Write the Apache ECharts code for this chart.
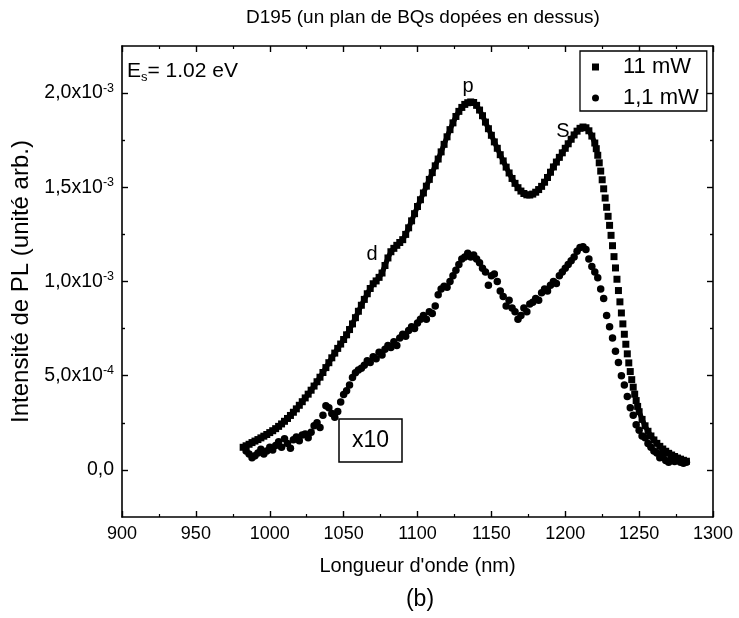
<!DOCTYPE html>
<html>
<head>
<meta charset="utf-8">
<script src="https://cdn.jsdelivr.net/npm/echarts@6/dist/echarts.min.js"></script>
<style>
html,body{margin:0;padding:0;background:#fff;}
#chart{width:739px;height:618px;}
</style>
</head>
<body>
<div id="chart"></div>
<script>
// ---- Data (values in units of 1e-3) ----
var wl11 = [982,984,986,988,990,992,994,996,998,1000,1002,1004,1006,1008,1010,1012,1014,1016,1018,1020,
1022,1024,1026,1028,1030,1032,1034,1036,1038,1040,1042,1044,1046,1048,1050,1052,1054,1056,1058,1060,
1062,1064,1066,1068,1070,1072,1074,1076,1078,1080,1082,1084,1086,1088,1090,1092,1094,1096,1098,1100,
1102,1104,1106,1108,1110,1112,1114,1116,1118,1120,1122,1124,1126,1128,1130,1132,1134,1136,1138,1140,
1142,1144,1146,1148,1150,1152,1154,1156,1158,1160,1162,1164,1166,1168,1170,1172,1174,1176,1178,1180,
1182,1184,1186,1188,1190,1192,1194,1196,1198,1200,1202,1204,1206,1208,1210,1212,1214,1216,1218,1220,
1221,1222,1223,1224,1225,1226,1227,1228,1229,1230,1231,1232,1233,1234,1235,1236,1237,1238,1239,1240,
1241,1242,1243,1244,1245,1246,1247,1248,1249,1250,
1252,1254,1256,1258,1260,1262,1264,1266,1268,1270,1272,1274,1276,1278,1280,1282];
var pl11 = [0.120,0.128,0.136,0.145,0.153,0.161,0.170,0.179,0.188,0.198,0.208,0.219,0.231,0.244,0.258,0.273,0.289,0.306,0.324,0.343,
0.362,0.382,0.402,0.423,0.445,0.468,0.492,0.517,0.543,0.569,0.595,0.620,0.645,0.668,0.692,0.717,0.745,0.775,0.808,0.842,
0.874,0.905,0.935,0.963,0.988,1.003,1.022,1.045,1.085,1.125,1.158,1.176,1.192,1.207,1.222,1.250,1.285,1.322,1.360,1.398,
1.434,1.470,1.506,1.542,1.578,1.614,1.650,1.688,1.728,1.768,1.806,1.842,1.876,1.903,1.924,1.940,1.949,1.953,1.950,1.935,
1.910,1.880,1.846,1.811,1.776,1.741,1.707,1.673,1.640,1.607,1.576,1.547,1.521,1.498,1.480,1.467,1.460,1.459,1.464,1.474,
1.488,1.505,1.527,1.552,1.580,1.608,1.634,1.659,1.683,1.707,1.731,1.755,1.778,1.798,1.813,1.820,1.816,1.800,1.772,1.735,
1.705,1.670,1.630,1.586,1.540,1.492,1.443,1.394,1.346,1.298,1.245,1.190,1.132,1.072,1.012,0.952,0.892,0.833,0.775,0.720,
0.667,0.616,0.568,0.522,0.479,0.439,0.402,0.368,0.337,0.309,
0.268,0.234,0.205,0.180,0.159,0.141,0.125,0.111,0.099,0.088,0.079,0.071,0.063,0.057,0.051,0.046];
// wavelength range where the 11 mW squares are spread apart (steep flank)
var steepRange = [1221, 1249];

var wl1 = [984,986,988,990,992,994,996,998,1000,1002,1004,1006,1008,1010,1012,1014,1016,1018,1020,
1022,1024,1026,1028,1030,1032,1034,1036,1038,1040,1042,1044,1046,1048,1050,1052,1054,1056,1058,1060,
1062,1064,1066,1068,1070,1072,1074,1076,1078,1080,1082,1084,1086,1088,1090,1092,1094,1096,1098,1100,
1102,1104,1106,1108,1110,1112,1114,1116,1118,1120,1122,1124,1126,1128,1130,1132,1134,1136,1138,1140,
1142,1144,1146,1148,1150,1152,1154,1156,1158,1160,1162,1164,1166,1168,1170,1172,1174,1176,1178,1180,
1182,1184,1186,1188,1190,1192,1194,1196,1198,1200,1202,1204,1206,1208,1210,1212,1214,1216,1218,1220,
1222,1224,1226,1228,1230,1232,1234,1236,1238,1240,1242,1244,1246,1248,1250,1252,1254,1256,1258,1260,
1262,1264,1266,1268,1270,1272,1274,1276,1278,1280,1282];
var pl1 = [0.100,0.085,0.065,0.075,0.090,0.110,0.085,0.100,0.120,0.105,0.130,0.150,0.120,0.165,0.140,0.115,0.160,0.175,0.155,
0.185,0.190,0.170,0.200,0.235,0.250,0.225,0.290,0.340,0.330,0.300,0.280,0.310,0.360,0.400,0.420,0.450,0.490,0.515,0.530,
0.540,0.555,0.580,0.570,0.600,0.590,0.625,0.610,0.640,0.660,0.650,0.680,0.660,0.700,0.720,0.710,0.740,0.760,0.750,0.780,
0.800,0.820,0.800,0.840,0.830,0.870,0.930,0.960,0.975,0.970,1.000,1.030,1.060,1.090,1.120,1.130,1.150,1.130,1.140,1.120,
1.100,1.070,1.050,0.980,1.030,1.040,1.000,0.950,0.920,0.870,0.900,0.860,0.840,0.800,0.820,0.860,0.840,0.880,0.890,0.910,
0.900,0.940,0.960,0.950,0.980,1.000,0.990,1.030,1.050,1.070,1.090,1.110,1.130,1.160,1.180,1.185,1.170,1.120,1.080,1.050,
1.020,0.960,0.910,0.820,0.760,0.700,0.630,0.570,0.500,0.450,0.390,0.330,0.290,0.240,0.210,0.180,0.170,0.140,0.120,0.100,
0.090,0.065,0.080,0.050,0.040,0.060,0.045,0.050,0.040,0.035,0.040];

var seriesNames = ['11 mW', '1,1 mW'];
var xTicks = [900, 950, 1000, 1050, 1100, 1150, 1200, 1250, 1300];
var yTickValues = [0, 0.5, 1.0, 1.5, 2.0];
var yTickMantissa = ['0,0', '5,0x10', '1,0x10', '1,5x10', '2,0x10'];
var yTickExponent = ['', '-4', '-3', '-3', '-3'];
var yMinorValues = [0.25, 0.75, 1.25, 1.75];

var FONT = '"Liberation Sans", Arial, sans-serif';
function pairs(xs, ys) { var o = []; for (var i = 0; i < xs.length; i++) o.push([xs[i], ys[i]]); return o; }
function pairsOutside(xs, ys, r) {
  var o = [];
  for (var i = 0; i < xs.length; i++) o.push((xs[i] >= r[0] && xs[i] <= r[1]) ? [xs[i], null] : [xs[i], ys[i]]);
  return o;
}

var chart = echarts.init(document.getElementById('chart'), null, {renderer: 'canvas'});
var axisLine = {show: true, onZero: false, lineStyle: {color: '#000', width: 1.6}};
var yRange = {min: -0.25, max: 2.25, interval: 0.25};

function yAxisDef(pos, major, labels) {
  return Object.assign({
    type: 'value', position: pos, scale: false,
    axisLine: major ? axisLine : {show: false, onZero: false},
    splitLine: {show: false},
    axisTick: {show: true, inside: true, length: major ? 6 : 3, customValues: major ? yTickValues : yMinorValues,
               lineStyle: {color: '#000', width: 1.4}},
    axisLabel: labels ? {
      show: true, margin: 8, customValues: yTickValues,
      formatter: function (v) {
        for (var i = 0; i < yTickValues.length; i++) {
          if (Math.abs(v - yTickValues[i]) < 1e-6) {
            return '{m|' + yTickMantissa[i] + '}' + (yTickExponent[i] ? '{e|' + yTickExponent[i] + '}' : '');
          }
        }
        return '';
      },
      rich: {
        m: {fontSize: 19.5, fontFamily: FONT, color: '#000', lineHeight: 23},
        e: {fontSize: 12.5, fontFamily: FONT, color: '#000', lineHeight: 12, verticalAlign: 'top'}
      }
    } : {show: false}
  }, yRange);
}

function xAxisDef(pos, labels) {
  var d = {
    type: 'value', position: pos, min: 900, max: 1300, interval: 50,
    axisLine: axisLine, splitLine: {show: false},
    axisTick: {show: true, inside: true, length: 6, lineStyle: {color: '#000', width: 1.4}},
    minorTick: {show: true, splitNumber: 2, length: 3, lineStyle: {color: '#000', width: 1.2}},
    axisLabel: labels ? {show: true, margin: 8, fontSize: 18, fontFamily: FONT, color: '#000',
      formatter: function (v) { var i = xTicks.indexOf(v); return i >= 0 ? String(xTicks[i]) : ''; }} : {show: false}
  };
  if (labels) {
    d.name = "Longueur d'onde (nm)"; d.nameLocation = 'middle'; d.nameGap = 39;
    d.nameTextStyle = {fontSize: 20, fontFamily: FONT, color: '#000'};
  }
  return d;
}

var option = {
  backgroundColor: '#fff',
  animation: false,
  grid: {left: 122, right: 26, top: 46, bottom: 101, containLabel: false},
  legend: {
    orient: 'vertical', left: 580, top: 51,
    data: [{name: seriesNames[0], icon: 'rect'}, {name: seriesNames[1], icon: 'circle'}],
    itemWidth: 7, itemHeight: 7, itemGap: 5,
    borderColor: '#000', borderWidth: 1.3, borderRadius: 0,
    backgroundColor: '#fff',
    padding: [3, 8, 0, 12],
    itemStyle: {color: '#000', opacity: 1},
    textStyle: {fontSize: 22, lineHeight: 26, fontFamily: FONT, color: '#000', padding: [0, 0, 0, 19]}
  },
  xAxis: [xAxisDef('bottom', true), xAxisDef('top', false)],
  yAxis: [
    Object.assign(yAxisDef('left', true, true), {
      name: 'Intensité de PL (unité arb.)', nameLocation: 'middle', nameGap: 78, nameRotate: 90,
      nameTextStyle: {fontSize: 24, fontFamily: FONT, color: '#000'}
    }),
    yAxisDef('left', false, false),
    yAxisDef('right', true, false),
    yAxisDef('right', false, false)
  ],
  series: [{
    name: seriesNames[0], type: 'scatter', xAxisIndex: 0, yAxisIndex: 0,
    symbol: 'rect', symbolSize: 7, itemStyle: {color: '#000', opacity: 1},
    data: pairs(wl11, pl11)
  }, {
    name: seriesNames[0], type: 'line', xAxisIndex: 0, yAxisIndex: 0,
    showSymbol: false, symbol: 'none', connectNulls: false, smooth: false,
    lineStyle: {color: '#000', width: 5}, itemStyle: {color: '#000'},
    data: pairsOutside(wl11, pl11, steepRange)
  }, {
    name: seriesNames[1], type: 'scatter', xAxisIndex: 0, yAxisIndex: 0,
    symbol: 'circle', symbolSize: 7.5, itemStyle: {color: '#000', opacity: 1},
    data: pairs(wl1, pl1)
  }],
  graphic: [
    {type: 'text', x: 423, y: 18, style: {text: 'D195 (un plan de BQs dopées en dessus)', fontSize: 19, fontFamily: FONT, fill: '#000', align: 'center', verticalAlign: 'middle'}},
    {type: 'text', x: 420, y: 600, style: {text: '(b)', fontSize: 23, fontFamily: FONT, fill: '#000', align: 'center', verticalAlign: 'middle'}},
    {type: 'text', x: 468, y: 86, style: {text: 'p', fontSize: 20, fontFamily: FONT, fill: '#000', align: 'center', verticalAlign: 'middle'}},
    {type: 'text', x: 563, y: 131, style: {text: 'S', fontSize: 20, fontFamily: FONT, fill: '#000', align: 'center', verticalAlign: 'middle'}},
    {type: 'text', x: 372, y: 254, style: {text: 'd', fontSize: 20, fontFamily: FONT, fill: '#000', align: 'center', verticalAlign: 'middle'}},
    {type: 'text', x: 127, y: 71, style: {
      text: '{a|E}{s|s}{a|= 1.02 eV}', verticalAlign: 'middle', align: 'left',
      rich: {a: {fontSize: 21, fontFamily: FONT, fill: '#000', lineHeight: 26}, s: {fontSize: 13, fontFamily: FONT, fill: '#000', lineHeight: 14, verticalAlign: 'bottom'}}
    }},
    {type: 'rect', shape: {x: 339, y: 419, width: 63, height: 43}, style: {fill: '#fff', stroke: '#000', lineWidth: 1.5}, z: 10},
    {type: 'text', x: 370.5, y: 441, z: 11, style: {text: 'x10', fontSize: 23, fontFamily: FONT, fill: '#000', align: 'center', verticalAlign: 'middle'}}
  ]
};
chart.setOption(option);
</script>
</body>
</html>
